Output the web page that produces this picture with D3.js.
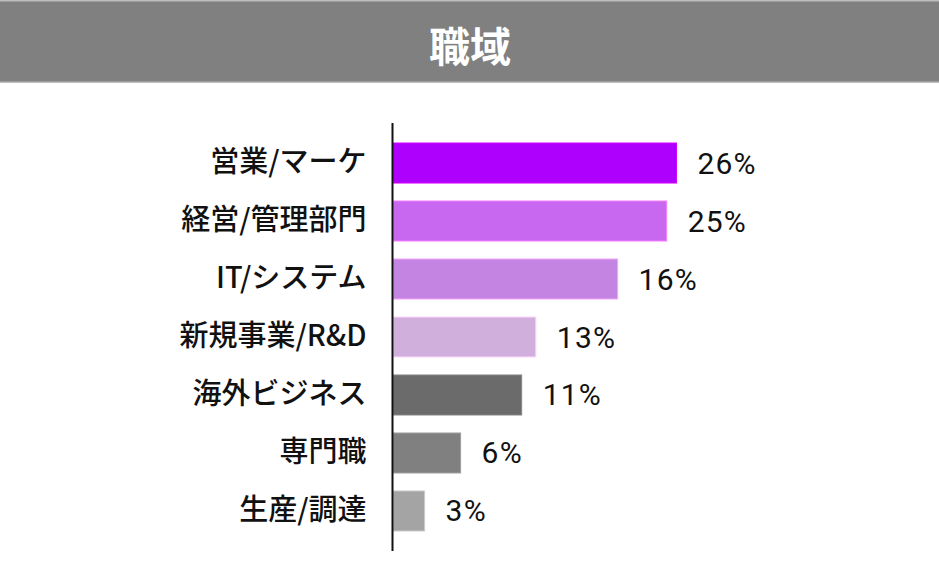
<!DOCTYPE html>
<html>
<head>
<meta charset="utf-8">
<script src="https://cdn.jsdelivr.net/npm/d3@7"></script>
<style>
html,body{margin:0;padding:0;background:#fff;}
svg{display:block;}
</style>
</head>
<body>
<svg id="chart" width="939" height="585"></svg>
<script>
const title = "職域";
const categories = ["営業/マーケ","経営/管理部門","IT/システム","新規事業/R&D","海外ビジネス","専門職","生産/調達"];
const barValues = [26, 25.1, 20.6, 13.1, 11.8, 6.2, 2.9];
const valueLabels = ["26%","25%","16%","13%","11%","6%","3%"];
const colors = ["#ad00fd","#c867f0","#c485e2","#d0afdd","#6b6b6b","#808080","#a4a4a4"];

const W = 939, H = 585;
const svg = d3.select("#chart");

// header band
svg.append("rect").attr("x",0).attr("y",0).attr("width",W).attr("height",83).attr("fill","#bdbdbd");
svg.append("rect").attr("x",0).attr("y",1.5).attr("width",W).attr("height",80).attr("fill","#808080");
svg.append("text").attr("x",470).attr("y",44).attr("text-anchor","middle").attr("dominant-baseline","central")
  .attr("fill","#fff").attr("font-family","'Noto Sans CJK JP'").attr("font-weight",700).attr("font-size",41)
  .text(title);

const y = d3.scaleBand().domain(categories).range([123,551]).paddingInner(0.31).paddingOuter(0.345);
const x = d3.scaleLinear().domain([0,26]).range([393,676.5]);

const g = svg.append("g");
g.selectAll("rect.bar").data(categories).join("rect").attr("class","bar")
  .attr("x", x(0)).attr("y", d=>y(d))
  .attr("width", (d,i)=>x(barValues[i])-x(0)).attr("height", y.bandwidth())
  .attr("fill",(d,i)=>colors[i])
  .attr("stroke",(d,i)=>d3.color(colors[i]).brighter(0.6)).attr("stroke-width",1);

// axis
const yAxis = d3.axisLeft(y).tickSize(0).tickPadding(26);
const ax = svg.append("g").attr("transform",`translate(${392.5},0)`).call(yAxis);
ax.select(".domain").attr("stroke","#111").attr("stroke-width",2).attr("d","M0,123V551");
ax.selectAll("text").attr("font-family","'Noto Sans CJK JP'").attr("font-weight",500).attr("font-size",29).attr("fill","#111");

// value labels
g.selectAll("text.val").data(categories).join("text").attr("class","val")
  .attr("x",(d,i)=>x(barValues[i])+21).attr("y",d=>y(d)+y.bandwidth()/2)
  .attr("dominant-baseline","central")
  .attr("font-family","Roboto").attr("font-weight",400).attr("font-size",30).attr("letter-spacing",1.2).attr("fill","#111")
  .text((d,i)=>valueLabels[i]);
</script>
</body>
</html>
